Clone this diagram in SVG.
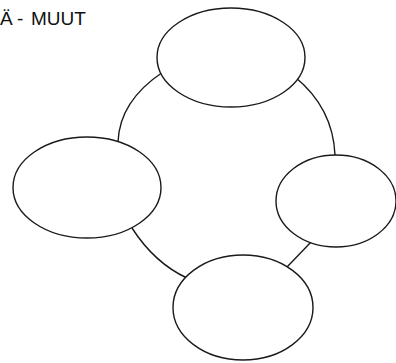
<svg xmlns="http://www.w3.org/2000/svg" width="396" height="363" viewBox="0 0 396 363">
<style>
.n{fill:#fff;stroke:#1a1a1a;stroke-width:1.4}
.c{fill:none;stroke:#1a1a1a;stroke-width:1.4}
.t{font-family:"Liberation Sans",Arial,sans-serif;font-size:19px;fill:#111}
</style>
<rect width="396" height="363" fill="#fff"/>
<text class="t" y="24.5"><tspan x="0">Ä</tspan><tspan x="17">-</tspan><tspan x="31">MUUT</tspan></text>
<g id="connectors">
<path class="c" d="M163,72 Q119.5,101 118,142"/>
<path class="c" d="M295,77 Q333,108 335,155"/>
<path class="c" d="M313,240 L287,267"/>
<path class="c" d="M132,228 Q154.5,263 187,278"/>
</g>
<g id="node-top"><ellipse class="n" cx="231" cy="57.5" rx="74" ry="49.5"/></g>
<g id="node-left"><ellipse class="n" cx="87" cy="187.5" rx="74" ry="50.5"/></g>
<g id="node-right"><ellipse class="n" cx="336" cy="201" rx="60" ry="46"/></g>
<g id="node-bottom"><ellipse class="n" cx="243" cy="307.5" rx="70" ry="52.5"/></g>
</svg>
